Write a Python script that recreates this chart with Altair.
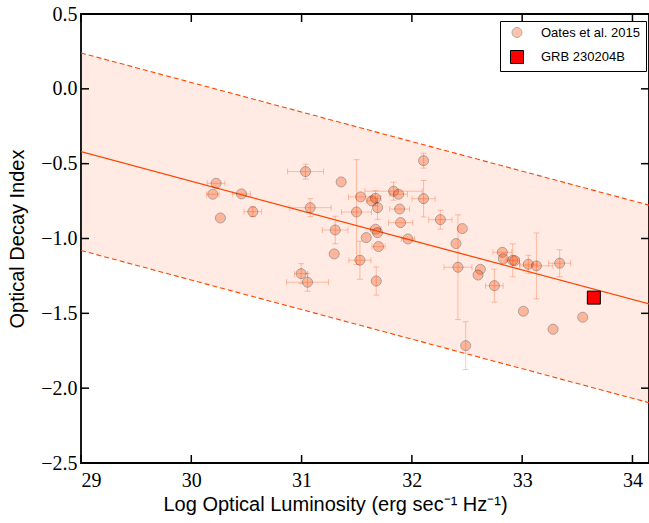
import altair as alt
import pandas as pd

# ---- data ----
x_vals = [30.225, 30.195, 30.455, 30.264, 30.558, 31.036, 31.078, 31.359, 31.305, 31.296,
          30.996, 31.054, 31.498, 31.535, 31.529, 31.586, 31.638, 31.671, 31.689, 31.671,
          31.689, 31.698, 31.677, 31.834, 31.880, 31.889, 31.898, 31.964, 32.106, 32.106,
          32.258, 32.457, 32.400, 32.418, 32.488, 32.621, 32.600, 32.748, 32.820, 32.829,
          32.914, 32.932, 33.011, 33.056, 33.129, 33.340, 33.280, 33.549]
y_vals = [-0.631, -0.704, -0.702, -0.863, -0.821, -0.553, -0.794, -0.622, -0.943, -1.103,
          -1.235, -1.292, -0.823, -0.722, -1.145, -0.994, -0.749, -0.731, -0.794, -0.938,
          -0.961, -1.054, -1.284, -0.684, -0.704, -0.803, -0.894, -1.003, -0.734, -0.480,
          -0.874, -0.934, -1.034, -1.192, -1.716, -1.206, -1.244, -1.315, -1.092, -1.135,
          -1.146, -1.148, -1.486, -1.172, -1.183, -1.165, -1.606, -1.526]
x_err = [0.08, 0.057, 0.08, 0.0, 0.08, 0.163, 0.19, 0.0, 0.116, 0.0,
         0.06, 0.19, 0.136, 0.11, 0.10, 0.0, 0.05, 0.05, 0.0, 0.05,
         0.0, 0.06, 0.0, 0.26, 0.08, 0.09, 0.11, 0.06, 0.105, 0.0,
         0.106, 0.0, 0.0, 0.127, 0.0, 0.0, 0.0, 0.08, 0.085, 0.0,
         0.06, 0.0, 0.0, 0.08, 0.15, 0.10, 0.0, 0.0]
y_err = [0.0, 0.0, 0.0, 0.0, 0.033, 0.05, 0.06, 0.0, 0.092, 0.0,
         0.067, 0.06, 0.35, 0.0, 0.127, 0.0, 0.0, 0.05, 0.078, 0.0,
         0.0, 0.0, 0.094, 0.06, 0.0, 0.0, 0.0, 0.0, 0.122, 0.05,
         0.063, 0.0, 0.0, 0.35, 0.16, 0.0, 0.0, 0.11, 0.0, 0.0,
         0.11, 0.0, 0.0, 0.06, 0.22, 0.09, 0.0, 0.0]

grb_x = [33.65]
grb_y = [-1.395]

fit_x = [29.0, 34.2]
fit_y = [-0.42, -1.447]
upper_y = [0.24, -0.787]
lower_y = [-1.08, -2.107]

series_names = ["Oates et al. 2015", "GRB 230204B"]
x_ticks = [29, 30, 31, 32, 33, 34]
y_ticks = [-2.5, -2.0, -1.5, -1.0, -0.5, 0.0, 0.5]

# ---- tables ----
oates = pd.DataFrame({"x": x_vals, "y": y_vals, "xerr": x_err, "yerr": y_err})
oates["series"] = series_names[0]
grb = pd.DataFrame({"x": grb_x, "y": grb_y, "xerr": [0.0], "yerr": [0.0]})
grb["series"] = series_names[1]
pts = pd.concat([oates, grb], ignore_index=True)
fit = pd.DataFrame({"x": fit_x, "y": fit_y, "hi": upper_y, "lo": lower_y})
xt = pd.DataFrame({"v": [float(v) for v in x_ticks]})
yt = pd.DataFrame({"v": y_ticks})

W, H = 568, 449
TL = 8  # inward tick length
XS = alt.Scale(domain=[29, 34.15], nice=False, zero=False)
YS = alt.Scale(domain=[-2.5, 0.5], nice=False, zero=False)
LF = "Liberation Serif"
TF = "Liberation Sans"
ORANGE = "#FF4500"

ax_x_main = alt.Axis(values=x_ticks, ticks=False, tickSize=0, domain=False, grid=False,
                     labelFont=LF, labelFontSize=20, labelColor="black", labelPadding=7,
                     labelExpr="format(datum.value, 'd')",
                     title="Log Optical Luminosity (erg sec\u207b\u00b9 Hz\u207b\u00b9)",
                     titleFont=TF, titleFontSize=20, titleFontWeight="normal", titleColor="black",
                     titleAlign="left", titleX=82, titlePadding=4)
ax_y_main = alt.Axis(values=y_ticks, ticks=False, tickSize=0, domain=False, grid=False,
                     labelFont=LF, labelFontSize=20, labelColor="black", labelPadding=4,
                     labelExpr="replace(format(datum.value, '.1f'), '-', '\u2212')",
                     title="Optical Decay Index",
                     titleFont=TF, titleFontSize=20, titleFontWeight="normal", titleColor="black",
                     titlePadding=13)

NOX = alt.X("x:Q", scale=XS, axis=None)

band = alt.Chart(fit).mark_area(fill=ORANGE, opacity=0.11, clip=True).encode(
    x=alt.X("x:Q", scale=XS, axis=ax_x_main),
    y=alt.Y("hi:Q", scale=YS, axis=ax_y_main),
    y2="lo:Q",
)
line = alt.Chart(fit).mark_line(color=ORANGE, strokeWidth=1.3, clip=True).encode(
    x=NOX, y=alt.Y("y:Q", scale=YS, axis=None),
)
upper = alt.Chart(fit).mark_line(color=ORANGE, strokeWidth=1.1, strokeDash=[5, 3], clip=True).encode(
    x=NOX, y=alt.Y("hi:Q", scale=YS, axis=None),
)
lower = alt.Chart(fit).mark_line(color=ORANGE, strokeWidth=1.1, strokeDash=[5, 3], clip=True).encode(
    x=NOX, y=alt.Y("lo:Q", scale=YS, axis=None),
)

# inward ticks on all four spines
tick_style = dict(color="black", strokeWidth=1.5, opacity=1)
t_bottom = alt.Chart(xt).mark_rule(**tick_style).encode(
    x=alt.X("v:Q", scale=XS, axis=None), y=alt.value(H), y2=alt.value(H - TL))
t_top = alt.Chart(xt).mark_rule(**tick_style).encode(
    x=alt.X("v:Q", scale=XS, axis=None), y=alt.value(0), y2=alt.value(TL))
t_left = alt.Chart(yt).mark_rule(**tick_style).encode(
    y=alt.Y("v:Q", scale=YS, axis=None), x=alt.value(0), x2=alt.value(TL))
t_right = alt.Chart(yt).mark_rule(**tick_style).encode(
    y=alt.Y("v:Q", scale=YS, axis=None), x=alt.value(W), x2=alt.value(W - TL))

ebase = alt.Chart(oates)
xbars = ebase.transform_filter("datum.xerr > 0").transform_calculate(
    xlo="datum.x - datum.xerr", xhi="datum.x + datum.xerr"
).mark_rule(color=ORANGE, opacity=0.3, strokeWidth=1).encode(
    x=alt.X("xlo:Q", scale=XS, axis=None), x2="xhi:Q",
    y=alt.Y("y:Q", scale=YS, axis=None),
)
ybars = ebase.transform_filter("datum.yerr > 0").transform_calculate(
    ylo="datum.y - datum.yerr", yhi="datum.y + datum.yerr"
).mark_rule(color=ORANGE, opacity=0.3, strokeWidth=1).encode(
    x=alt.X("x:Q", scale=XS, axis=None),
    y=alt.Y("ylo:Q", scale=YS, axis=None), y2="yhi:Q",
)
xcaps = ebase.transform_filter("datum.xerr > 0").transform_calculate(
    xlo="datum.x - datum.xerr", xhi="datum.x + datum.xerr"
).transform_fold(["xlo", "xhi"], as_=["k", "cx"]).mark_tick(
    orient="vertical", color=ORANGE, opacity=0.3, size=6, thickness=1
).encode(
    x=alt.X("cx:Q", scale=XS, axis=None),
    y=alt.Y("y:Q", scale=YS, axis=None),
)
ycaps = ebase.transform_filter("datum.yerr > 0").transform_calculate(
    ylo="datum.y - datum.yerr", yhi="datum.y + datum.yerr"
).transform_fold(["ylo", "yhi"], as_=["k", "cy"]).mark_tick(
    orient="horizontal", color=ORANGE, opacity=0.3, size=6, thickness=1
).encode(
    x=alt.X("x:Q", scale=XS, axis=None),
    y=alt.Y("cy:Q", scale=YS, axis=None),
)

leg = alt.Legend(title=None, orient="none", legendX=419, legendY=7,
                 fillColor="white", strokeColor="black", cornerRadius=0,
                 padding=5, symbolOffset=5, labelOffset=17, rowPadding=8,
                 labelFont=TF, labelFontSize=13, labelColor="black",
                 symbolStrokeColor="black", symbolStrokeWidth=1)

points = alt.Chart(pts).mark_point(filled=True, stroke="black", strokeWidth=1).encode(
    x=alt.X("x:Q", scale=XS, axis=None),
    y=alt.Y("y:Q", scale=YS, axis=None),
    color=alt.Color("series:N", scale=alt.Scale(domain=series_names, range=[ORANGE, "#FF0000"]), legend=leg),
    shape=alt.Shape("series:N", scale=alt.Scale(domain=series_names, range=["circle", "square"]), legend=leg),
    opacity=alt.Opacity("series:N", scale=alt.Scale(domain=series_names, range=[0.32, 1.0]), legend=leg),
    size=alt.Size("series:N", scale=alt.Scale(domain=series_names, range=[100, 169]), legend=leg),
)

chart = alt.layer(band, upper, lower, line,
                  xbars, ybars, xcaps, ycaps, points,
                  t_bottom, t_top, t_left, t_right).resolve_axis(
    x="independent", y="independent"
).properties(
    width=W, height=H,
    background="white",
    autosize=alt.AutoSizeParams(type="none"),
    padding={"left": 81, "top": 14, "right": 0, "bottom": 60},
).configure_view(stroke="black", strokeWidth=1.8)

chart.save("out.html", embed_options={"renderer": "svg", "actions": False})
